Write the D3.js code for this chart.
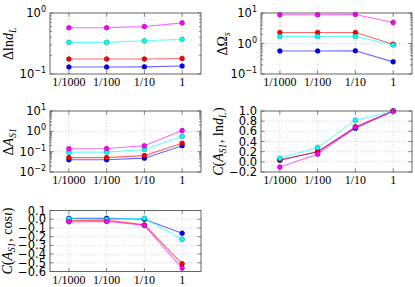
<!DOCTYPE html>
<html>
<head>
<meta charset="utf-8">
<script src="https://cdn.jsdelivr.net/npm/d3@7"></script>
<style>
  body { margin: 0; background: #fff; }
  svg { display: block; }
</style>
</head>
<body>
<svg id="chart" width="415" height="287"></svg>
<script>
// categories on the x axis
const ratios = ["1/1000", "1/100", "1/10", "1"];
const seriesColors = ["#0000ff", "#ff0000", "#00ffff", "#ff00ff"];

// Δ ln d_L  (blue, red, cyan, magenta)
const dlnDL = [
  [0.130, 0.130, 0.131, 0.135],
  [0.176, 0.176, 0.176, 0.180],
  [0.330, 0.330, 0.350, 0.370],
  [0.574, 0.575, 0.600, 0.690]
];
// Δ Ω_s
const dOmega = [
  [0.57, 0.57, 0.58, 0.25],
  [2.30, 2.30, 2.30, 0.95],
  [1.70, 1.70, 1.70, 0.90],
  [8.80, 8.80, 8.90, 4.90]
];
// Δ A_S1
const dAS1 = [
  [0.040, 0.040, 0.048, 0.195],
  [0.051, 0.051, 0.064, 0.260],
  [0.093, 0.095, 0.128, 0.570],
  [0.140, 0.142, 0.195, 1.100]
];
// C(A_S1, ln d_L)
const corrDL = [
  [0.03, 0.20, 0.66, 1.00],
  [0.04, 0.20, 0.69, 1.00],
  [0.07, 0.28, 0.82, 0.99],
  [-0.10, 0.15, 0.68, 1.00]
];
// C(A_S1, cos iota)
const corrCos = [
  [0.010, 0.010, 0.000, -0.160],
  [-0.015, -0.010, -0.065, -0.510],
  [0.005, 0.000, 0.010, -0.230],
  [-0.030, -0.025, -0.070, -0.560]
];

const svg = d3.select("#chart");
const W = 151, H = 61;

const panels = [
  {left: 50, top: 13, data: dlnDL, log: true, domain: [0.1, 1], label: "dl"},
  {left: 261, top: 13, data: dOmega, log: true, domain: [0.1, 10], label: "om"},
  {left: 50, top: 111, data: dAS1, log: true, domain: [0.01, 10], label: "as"},
  {left: 261, top: 111, data: corrDL, log: false, domain: [-0.2, 1.0], step: 0.2, label: "cd"},
  {left: 50, top: 210.5, data: corrCos, log: false, domain: [-0.6, 0.1], step: 0.1, label: "cc"}
];

function fmtNum(v) {
  const s = d3.format(".1f")(Math.abs(v) < 1e-9 ? 0 : v);
  return s.replace("-", "\u2212");
}

function drawLabel(g, kind) {
  const t = g.append("text")
    .attr("font-family", "'Liberation Serif', 'DejaVu Serif', serif")
    .attr("font-size", 14)
    .attr("fill", "#000")
    .attr("text-anchor", "middle");
  const it = (s) => t.append("tspan").attr("font-style", "italic").text(s);
  const rm = (s) => t.append("tspan").text(s);
  const sub = (s, italic) => {
    const ts = t.append("tspan").attr("font-size", 9.5).attr("baseline-shift", "-25%").text(s);
    if (italic) ts.attr("font-style", "italic");
    t.append("tspan").attr("font-size", 9).text("\u200a");
  };
  if (kind === "dl") { rm("\u0394ln"); it("d"); sub("L", true); }
  if (kind === "om") { rm("\u0394\u03a9"); sub("s", true); }
  if (kind === "as") { rm("\u0394"); it("A"); sub("S1", true); }
  if (kind === "cd") { it("C"); rm("("); it("A"); sub("S1", true); rm(", ln"); it("d"); sub("L", true); rm(")"); }
  if (kind === "cc") { it("C"); rm("("); it("A"); sub("S1", true); rm(", cos"); it("\u03b9"); rm(")"); }
  return t;
}

panels.forEach(function(p) {
  const g = svg.append("g").attr("transform", "translate(" + p.left + "," + p.top + ")");
  const x = d3.scalePoint().domain(ratios).range([0, W]).padding(0.5);
  const y = (p.log ? d3.scaleLog() : d3.scaleLinear()).domain(p.domain).range([H, 0]);

  let majors, minors = [];
  if (p.log) {
    const lo = Math.round(Math.log10(p.domain[0])), hi = Math.round(Math.log10(p.domain[1]));
    majors = d3.range(lo, hi + 1).map(e => Math.pow(10, e));
    d3.range(lo, hi).forEach(function(e) {
      for (let k = 2; k < 10; k++) minors.push(k * Math.pow(10, e));
    });
  } else {
    majors = d3.range(Math.round(p.domain[0] / p.step), Math.round(p.domain[1] / p.step) + 1)
      .map(k => +(k * p.step).toFixed(2));
  }

  // grid
  g.selectAll(".gx").data(ratios).enter().append("line")
    .attr("x1", d => x(d)).attr("x2", d => x(d)).attr("y1", 0).attr("y2", H)
    .attr("stroke", "#c8c8c8").attr("stroke-width", 0.8).attr("stroke-dasharray", "1,2");
  g.selectAll(".gy").data(majors.slice(1, -1)).enter().append("line")
    .attr("x1", 0).attr("x2", W).attr("y1", d => y(d)).attr("y2", d => y(d))
    .attr("stroke", "#c8c8c8").attr("stroke-width", 0.8).attr("stroke-dasharray", "1,2");

  // ticks (inside, on every side)
  const tickG = g.append("g").attr("stroke", "#333").attr("stroke-width", 0.6);
  ratios.forEach(function(r) {
    tickG.append("line").attr("x1", x(r)).attr("x2", x(r)).attr("y1", H).attr("y2", H - 3.5);
    tickG.append("line").attr("x1", x(r)).attr("x2", x(r)).attr("y1", 0).attr("y2", 3.5);
  });
  majors.forEach(function(v) {
    tickG.append("line").attr("x1", 0).attr("x2", 3.5).attr("y1", y(v)).attr("y2", y(v));
    tickG.append("line").attr("x1", W).attr("x2", W - 3.5).attr("y1", y(v)).attr("y2", y(v));
  });
  minors.forEach(function(v) {
    tickG.append("line").attr("x1", 0).attr("x2", 2).attr("y1", y(v)).attr("y2", y(v));
    tickG.append("line").attr("x1", W).attr("x2", W - 2).attr("y1", y(v)).attr("y2", y(v));
  });

  // series
  const line = d3.line().x((d, i) => x(ratios[i])).y(d => y(d));
  p.data.forEach(function(vals, si) {
    g.append("path").attr("d", line(vals))
      .attr("fill", "none").attr("stroke", seriesColors[si])
      .attr("stroke-width", 1.1).attr("stroke-opacity", 0.6);
  });
  p.data.forEach(function(vals, si) {
    g.selectAll(".pt" + si).data(vals).enter().append("circle")
      .attr("cx", (d, i) => x(ratios[i])).attr("cy", d => y(d)).attr("r", 2.5)
      .attr("fill", seriesColors[si]).attr("stroke", "#000").attr("stroke-width", 0.4)
      .attr("stroke-opacity", 0.6);
  });

  // frame
  g.append("rect").attr("width", W).attr("height", H)
    .attr("fill", "none").attr("stroke", "#555").attr("stroke-width", 0.9);

  // x tick labels
  g.selectAll(".xl").data(ratios).enter().append("text")
    .attr("x", d => x(d)).attr("y", H + 12)
    .attr("text-anchor", "middle")
    .attr("font-family", "'Liberation Serif', 'DejaVu Serif', serif")
    .attr("font-size", 12)
    .text(d => d);

  // y tick labels
  majors.forEach(function(v) {
    const t = g.append("text").attr("x", -4).attr("y", y(v) + 4)
      .attr("text-anchor", "end")
      .attr("font-family", "'DejaVu Sans', sans-serif")
      .attr("font-size", 11.5);
    if (p.log) {
      const e = Math.round(Math.log10(v));
      t.append("tspan").text("10");
      t.append("tspan").attr("font-size", 8).attr("dy", -5).text(String(e).replace("-", "\u2212"));
    } else {
      t.text(fmtNum(v));
    }
  });

  // y axis label
  const lx = p.log ? -37 : -38;
  drawLabel(g, p.label)
    .attr("transform", "translate(" + (p.label === "om" ? -34 : lx) + "," + (H / 2) + ") rotate(-90)");
});
</script>
</body>
</html>
